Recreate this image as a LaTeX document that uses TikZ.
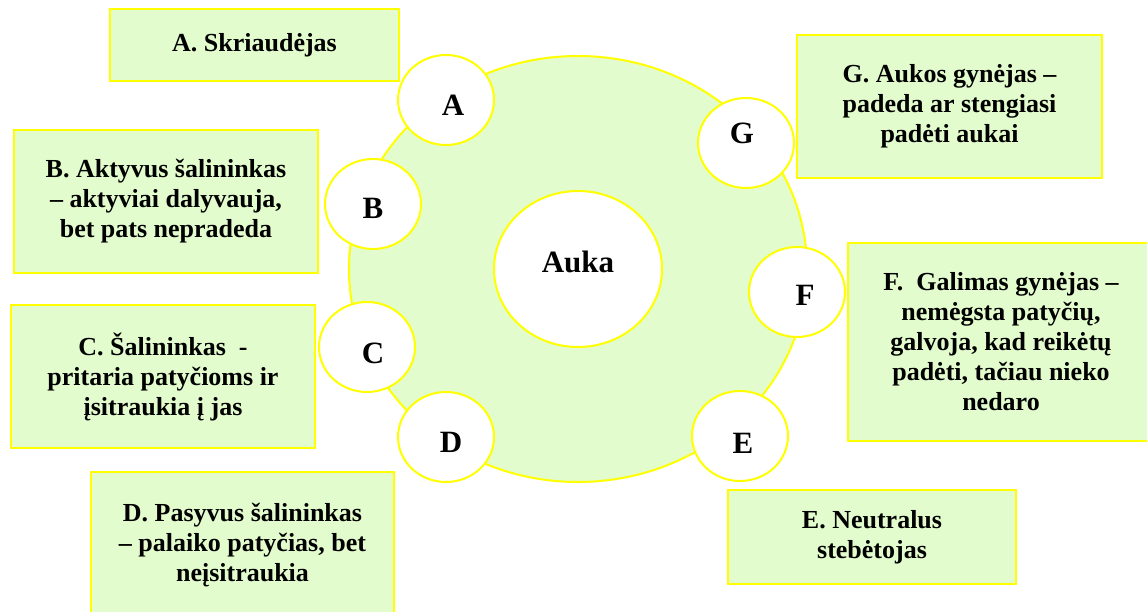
\documentclass[tikz,border=0pt]{standalone}
\usepackage{fontspec}
\setmainfont{Liberation Serif}
\usepackage{tikz}
\usetikzlibrary{shapes.geometric}
\definecolor{lapas}{HTML}{E3FCCD}
\definecolor{geltona}{HTML}{FFFF00}
\newcommand{\tekstas}{\fontsize{26}{30}\selectfont\bfseries}
\newcommand{\raide}{\fontsize{31}{36}\selectfont\bfseries}

\begin{document}
\begin{tikzpicture}
    [x=1pt, y=-1pt, line width=2pt,
    krastas/.style={draw=geltona, fill=lapas},
    roles/.style={krastas, align=center, font=\tekstas, inner sep=0pt},
    ratukas/.style={ellipse, draw=geltona, fill=white, inner sep=0pt,
        minimum width=96pt, minimum height=90pt}]

\useasboundingbox (0,0) rectangle (1147,612);

% ratas su auka viduryje
\node[ellipse, krastas, minimum width=458pt, minimum height=426pt] (ratas) at (578,269) {};
\node[ellipse, draw=geltona, fill=white, minimum width=168pt, minimum height=156pt] (auka) at (578,269) {};
\node[font=\raide] (auka-txt) at (578,262) {Auka};

% dalyviai aplink
\foreach \n/\x/\y/\dx/\dy in {A/446/100/7/5, B/373/204/0/4, C/367/347/6/6,
        D/446/437/5/5, E/740/436/3/7, F/797/292/8/3, G/746/143/-4/-10}
{
    \node[ratukas] (\n) at (\x,\y) {};
    \node[font=\raide] (\n-txt) at ([shift={(\dx,\dy)}]\n.center) {\n};
}

% vaidmenys
\node[roles, minimum width=289pt, minimum height=72pt] (rA) at (254.5,45) {A. Skriaudėjas};
\node[roles, minimum width=304pt, minimum height=143pt] (rB) at (166,201.5)
    {B. Aktyvus šalininkas\\– aktyviai dalyvauja,\\bet pats nepradeda};
\node[roles, minimum width=304pt, minimum height=143pt] (rC) at (163,376.5)
    {C. Šalininkas\ \ -\\pritaria patyčioms ir\\įsitraukia į jas};
\node[roles, minimum width=303pt, minimum height=146pt] (rD) at (242.5,545)
    {D. Pasyvus šalininkas\\– palaiko patyčias, bet\\neįsitraukia};
\node[roles, minimum width=288pt, minimum height=94pt] (rE) at (872,537)
    {E. Neutralus\\stebėtojas};
\node[roles, minimum width=306pt, minimum height=198pt] (rF) at (1001,342)
    {F.\ \ Galimas gynėjas –\\nemėgsta patyčių,\\galvoja, kad reikėtų\\padėti, tačiau nieko\\nedaro};
\node[roles, minimum width=305pt, minimum height=143pt] (rG) at (949.5,106.5)
    {G. Aukos gynėjas –\\padeda ar stengiasi\\padėti aukai};
\end{tikzpicture}
\end{document}
